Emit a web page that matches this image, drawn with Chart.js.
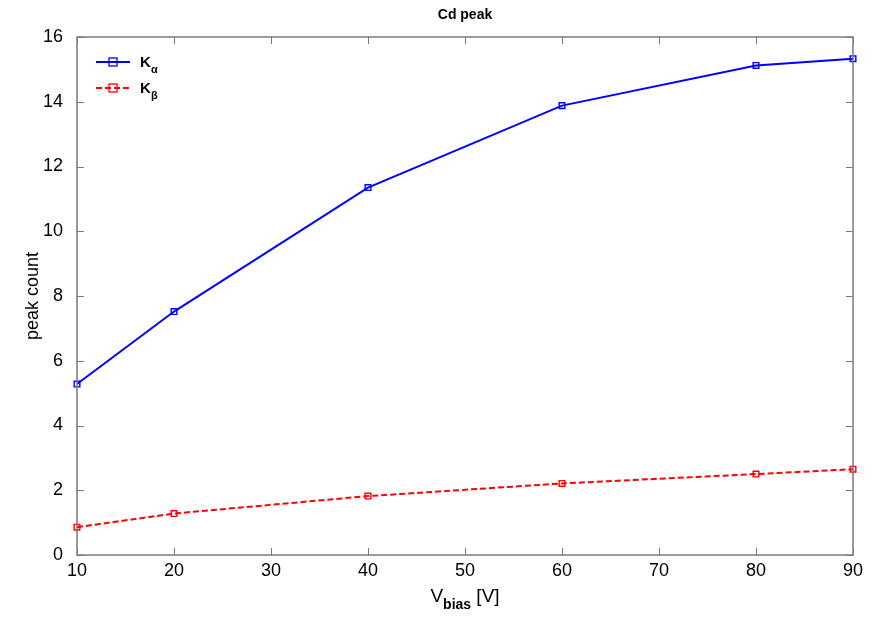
<!DOCTYPE html>
<html>
<head>
<meta charset="utf-8">
<script src="https://cdn.jsdelivr.net/npm/chart.js@4"></script>
<style>
  html, body { margin: 0; padding: 0; background: #fff; }
  #wrap { width: 876px; height: 619px; position: relative; }
</style>
</head>
<body>
<div id="wrap"><canvas id="c" width="876" height="619"></canvas></div>
<script>
  // ---------- data ----------
  const biasVolts = [10, 20, 40, 60, 80, 90];
  const kAlpha    = [5.28, 7.52, 11.35, 13.88, 15.12, 15.33];
  const kBeta     = [0.86, 1.28, 1.82, 2.21, 2.50, 2.65];
  const xTicks    = [10, 20, 30, 40, 50, 60, 70, 80, 90];
  const yTicks    = [0, 2, 4, 6, 8, 10, 12, 14, 16];

  const FONT = "'Liberation Sans', Arial, sans-serif";
  const AXIS = "#7a7a7a";

  // box, inward ticks, titles and legend (MATLAB look)
  const matlabAxes = {
    id: "matlabAxes",
    afterDraw(chart) {
      const { ctx, chartArea: a, scales: { x, y } } = chart;
      ctx.save();
      ctx.strokeStyle = AXIS;
      ctx.lineWidth = 1.5;
      ctx.strokeRect(a.left, a.top, a.right - a.left, a.bottom - a.top);
      ctx.lineWidth = 1;
      const t = 7;
      xTicks.forEach(v => {
        const px = Math.round(x.getPixelForValue(v)) + 0.5;
        ctx.beginPath();
        ctx.moveTo(px, a.bottom); ctx.lineTo(px, a.bottom - t);
        ctx.moveTo(px, a.top);    ctx.lineTo(px, a.top + t);
        ctx.stroke();
      });
      yTicks.forEach(v => {
        const py = Math.round(y.getPixelForValue(v)) + 0.5;
        ctx.beginPath();
        ctx.moveTo(a.left, py);  ctx.lineTo(a.left + t, py);
        ctx.moveTo(a.right, py); ctx.lineTo(a.right - t, py);
        ctx.stroke();
      });

      ctx.fillStyle = "#000";
      // title
      ctx.font = `bold 14px ${FONT}`;
      ctx.textAlign = "center";
      ctx.textBaseline = "middle";
      ctx.fillText("Cd peak", (a.left + a.right) / 2, 15);

      // x title with subscript
      const cx = (a.left + a.right) / 2;
      ctx.font = `19px ${FONT}`;
      ctx.textAlign = "left";
      ctx.textBaseline = "alphabetic";
      const w1 = ctx.measureText("V").width;
      ctx.font = `bold 14px ${FONT}`;
      const w2 = ctx.measureText("bias").width;
      ctx.font = `19px ${FONT}`;
      const w3 = ctx.measureText(" [V]").width;
      let sx = cx - (w1 + w2 + w3) / 2;
      ctx.fillText("V", sx, 602);
      ctx.font = `bold 14px ${FONT}`;
      ctx.fillText("bias", sx + w1, 609);
      ctx.font = `19px ${FONT}`;
      ctx.fillText(" [V]", sx + w1 + w2, 602);

      // y title
      ctx.save();
      ctx.translate(33, (a.top + a.bottom) / 2);
      ctx.rotate(-Math.PI / 2);
      ctx.textAlign = "center";
      ctx.textBaseline = "middle";
      ctx.font = `18px ${FONT}`;
      ctx.fillText("peak count", 0, 0);
      ctx.restore();

      // legend
      const items = [
        { ds: chart.data.datasets[0], sub: "\u03b1", y: 62 },
        { ds: chart.data.datasets[1], sub: "\u03b2", y: 88 }
      ];
      items.forEach(it => {
        ctx.strokeStyle = it.ds.borderColor;
        ctx.lineWidth = 2;
        ctx.setLineDash(it.ds.borderDash || []);
        ctx.beginPath();
        ctx.moveTo(96, it.y); ctx.lineTo(130, it.y);
        ctx.stroke();
        ctx.setLineDash([]);
        ctx.lineWidth = 1.3;
        ctx.strokeRect(109, it.y - 4, 8, 8);
        ctx.fillStyle = "#000";
        ctx.font = `bold 15px ${FONT}`;
        ctx.textAlign = "left";
        ctx.textBaseline = "alphabetic";
        ctx.fillText("K", 140, it.y + 5);
        ctx.font = `bold 11px ${FONT}`;
        ctx.fillText(it.sub, 151, it.y + 11);
      });
      ctx.restore();
    }
  };

  const lineSet = (label, values, color, dash) => ({
    label,
    data: biasVolts.map((v, i) => ({ x: v, y: values[i] })),
    borderColor: color,
    borderWidth: 2,
    borderDash: dash,
    pointStyle: "rect",
    pointRadius: 4,
    pointBorderWidth: 1.4,
    pointBackgroundColor: "rgba(0,0,0,0)",
    pointBorderColor: color,
    tension: 0,
    fill: false,
    clip: false
  });

  new Chart(document.getElementById("c"), {
    type: "line",
    data: {
      datasets: [
        lineSet("K\u03b1", kAlpha, "#0000ff", []),
        lineSet("K\u03b2", kBeta, "#ff0000", [6, 3])
      ]
    },
    options: {
      responsive: false,
      animation: false,
      layout: { padding: { left: 0, top: 37, right: 23, bottom: 0 } },
      plugins: { legend: { display: false }, tooltip: { enabled: false } },
      scales: {
        x: {
          type: "linear",
          min: 10, max: 90,
          afterFit: s => { s.height = 64; },
          afterBuildTicks: s => { s.ticks = xTicks.map(v => ({ value: v })); },
          grid: { display: false },
          border: { display: false },
          ticks: { color: "#000", font: { family: FONT, size: 18 }, padding: -3, maxRotation: 0 }
        },
        y: {
          min: 0, max: 16,
          afterFit: s => { s.width = 77; },
          afterBuildTicks: s => { s.ticks = yTicks.map(v => ({ value: v })); },
          grid: { display: false },
          border: { display: false },
          ticks: { color: "#000", font: { family: FONT, size: 18 }, padding: 6 }
        }
      }
    },
    plugins: [matlabAxes]
  });
</script>
</body>
</html>
